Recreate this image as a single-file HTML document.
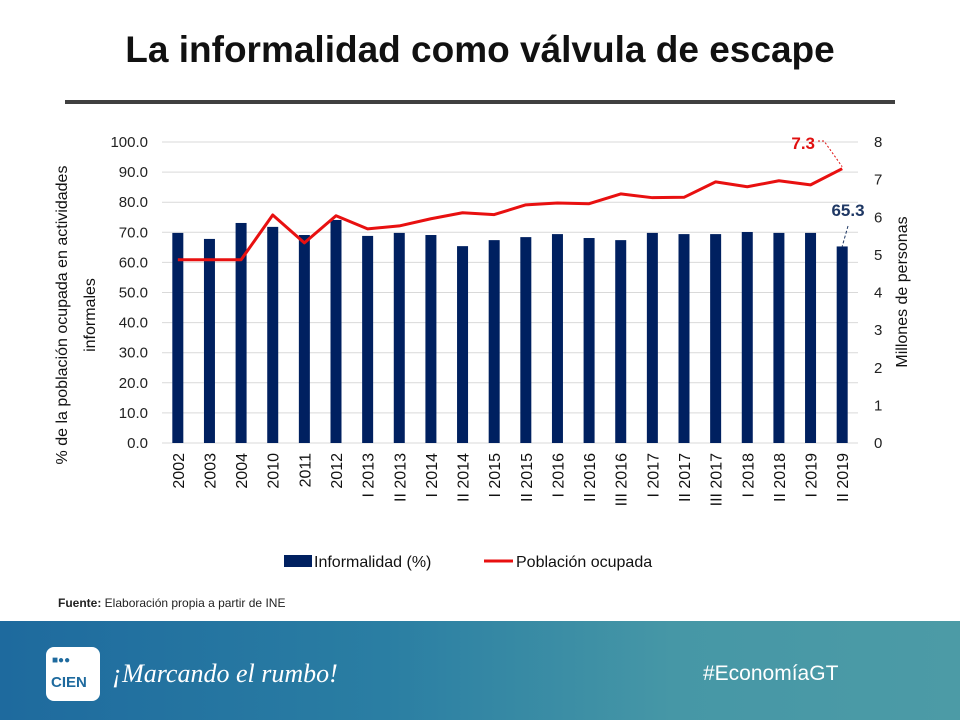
<!DOCTYPE html>
<html><head><meta charset="utf-8"><style>
body{margin:0;width:960px;height:720px;overflow:hidden;background:#fff;font-family:"Liberation Sans",sans-serif;position:relative}
.title{position:absolute;top:29px;left:0;width:960px;text-align:center;font-size:37px;font-weight:bold;color:#111}
.rule{position:absolute;left:65px;top:100px;width:830px;height:4px;background:#404040}
.footer{position:absolute;left:0;top:621px;width:960px;height:99px;background:linear-gradient(90deg,#1e6a9e 0%,#2a7ea3 40%,#4697a6 70%,#4c9ba6 100%)}
</style></head><body>
<div class="title">La informalidad como válvula de escape</div>
<div class="rule"></div>
<svg id="chart" width="960" height="620" style="position:absolute;left:0;top:0"></svg>
<div style="position:absolute;left:58px;top:596px;font-size:12px;color:#222"><b>Fuente:</b> Elaboración propia a partir de INE</div>
<div class="footer">
 <div style="position:absolute;left:46px;top:26px;width:54px;height:54px;background:#fff;border-radius:8px">
  <div style="position:absolute;left:6px;top:8px;font-size:10px;font-weight:bold;color:#1e6a9e">■●●</div>
  <div style="position:absolute;left:5px;top:27px;font-size:15px;font-weight:bold;color:#1e6a9e">CIEN</div>
 </div>
 <div style="position:absolute;left:112px;top:38px;font-size:26px;font-style:italic;color:#fff;font-family:'Liberation Serif',serif">¡Marcando el rumbo!</div>
 <div style="position:absolute;left:703px;top:41px;font-size:21px;color:#fff">#EconomíaGT</div>
</div>
<script>
const categories=["2002","2003","2004","2010","2011","2012","I  2013","II  2013","I  2014","II  2014","I  2015","II  2015","I  2016","II  2016","III  2016","I  2017","II  2017","III  2017","I  2018","II  2018","I  2019","II  2019"];
const informalidad=[69.8,67.8,73.1,71.8,69.1,74.1,68.8,69.8,69.1,65.4,67.4,68.4,69.4,68.1,67.4,69.8,69.4,69.4,70.1,69.8,69.8,65.3];
const poblacion=[4.87,4.87,4.87,6.06,5.32,6.04,5.69,5.77,5.96,6.12,6.07,6.33,6.38,6.36,6.62,6.52,6.53,6.94,6.81,6.97,6.86,7.29];
const leftTicks=[0,10,20,30,40,50,60,70,80,90,100];
const rightTicks=[0,1,2,3,4,5,6,7,8];
const NS="http://www.w3.org/2000/svg",svg=document.getElementById("chart");
const y0=443,y1=142,xL=162,xR=858;
const yL=v=>y0-(v/100)*(y0-y1);
const yR=v=>y0-(v/8)*(y0-y1);
const step=(xR-xL)/categories.length;
const xc=i=>xL+step*(i+0.5);
function mk(t,a,txt){const e=document.createElementNS(NS,t);for(const k in a)e.setAttribute(k,a[k]);if(txt!=null)e.textContent=txt;svg.appendChild(e);return e;}
leftTicks.forEach(v=>{
 const g=mk("line",{x1:xL,x2:xR,y1:yL(v),y2:yL(v),stroke:"#d9d9d9","stroke-width":1});
 
 
 const t=mk("text",{x:148,y:yL(v)+5,"text-anchor":"end","font-size":15,fill:"#222"},v.toFixed(1));
 
 
});
rightTicks.forEach(v=>{
 const t=mk("text",{x:874,y:yR(v)+5,"font-size":15,fill:"#222"},String(v));
 
 
});
categories.forEach((c,i)=>{
 const b=mk("rect",{x:xc(i)-5.5,y:yL(informalidad[i]),width:11,height:y0-yL(informalidad[i]),fill:"#002060"});
 
 
 const t=mk("text",{transform:`translate(${xc(i)+6},453) rotate(-90)`,"text-anchor":"end","font-size":16,fill:"#111","xml:space":"preserve"},c);
 
 
});
const pl=mk("polyline",{points:poblacion.map((v,i)=>xc(i)+","+yR(v)).join(" "),fill:"none",stroke:"#e81010","stroke-width":3,"stroke-linejoin":"round"});


const n=categories.length-1;
const l1=mk("text",{x:815,y:149,"text-anchor":"end","font-size":17,"font-weight":"bold",fill:"#e01010"},poblacion[n].toFixed(1));


mk("polyline",{points:`818,141 824,141 ${xc(n)},${yR(poblacion[n])-2}`,fill:"none",stroke:"#e01010","stroke-width":1,"stroke-dasharray":"2,2"});
const l2=mk("text",{x:848,y:216,"text-anchor":"middle","font-size":17,"font-weight":"bold",fill:"#1f3864"},informalidad[n].toFixed(1));


mk("line",{x1:848,y1:226,x2:xc(n),y2:yL(informalidad[n]),stroke:"#1f3864","stroke-width":1,"stroke-dasharray":"3,2"});
const ya=mk("text",{transform:"translate(67,315) rotate(-90)","text-anchor":"middle","font-size":16,fill:"#111"},"% de la población ocupada en actividades");


const yb=mk("text",{transform:"translate(95,315) rotate(-90)","text-anchor":"middle","font-size":16,fill:"#111"},"informales");


const yr=mk("text",{transform:"translate(907,292) rotate(-90)","text-anchor":"middle","font-size":16,fill:"#111"},"Millones de personas");


const lg1=mk("rect",{x:284,y:555,width:28,height:12,fill:"#002060"});


const lt1=mk("text",{x:314,y:567,"font-size":16,fill:"#111"},"Informalidad (%)");


const lg2=mk("line",{x1:484,x2:513,y1:561,y2:561,stroke:"#e81010","stroke-width":3});


const lt2=mk("text",{x:516,y:567,"font-size":16,fill:"#111"},"Población ocupada");


</script>
</body></html>
